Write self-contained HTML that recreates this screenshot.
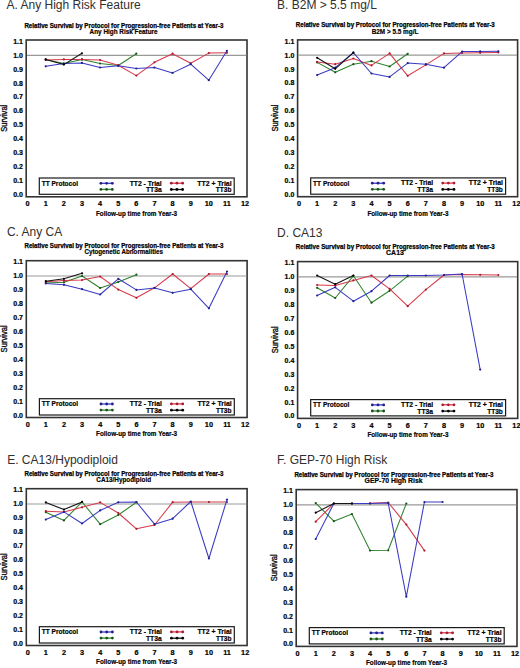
<!DOCTYPE html>
<html><head><meta charset="utf-8"><style>
html,body{margin:0;padding:0;background:#fff;}
svg{display:block;}
</style></head><body>
<svg width="520" height="668" viewBox="0 0 520 668">
<rect width="520" height="668" fill="#fff"/>
<g transform="translate(0,0)">
<text x="123.9" y="27.5" font-size="6.4" font-weight="bold" text-anchor="middle" textLength="199" lengthAdjust="spacingAndGlyphs" fill="#000" stroke="#000" stroke-width="0.25" font-family="Liberation Sans, sans-serif">Relative Survival by Protocol for Progression-free Patients at Year-3</text>
<text x="123.6" y="33.8" font-size="7.4" font-weight="bold" text-anchor="middle" textLength="68" lengthAdjust="spacingAndGlyphs" fill="#000" stroke="#000" stroke-width="0.2" font-family="Liberation Sans, sans-serif">Any High Risk Feature</text>
<rect x="26.2" y="40" width="220.8" height="156.8" fill="none" stroke="#333" stroke-width="1.6"/>
<line x1="27" y1="55.3" x2="246.4" y2="55.3" stroke="#999" stroke-width="1.2"/>
<text x="22.9" y="196.9" font-size="7" font-weight="bold" text-anchor="end" fill="#000" stroke="#000" stroke-width="0.2" font-family="Liberation Sans, sans-serif">0.0</text>
<text x="22.9" y="182.98" font-size="7" font-weight="bold" text-anchor="end" fill="#000" stroke="#000" stroke-width="0.2" font-family="Liberation Sans, sans-serif">0.1</text>
<text x="22.9" y="169.06" font-size="7" font-weight="bold" text-anchor="end" fill="#000" stroke="#000" stroke-width="0.2" font-family="Liberation Sans, sans-serif">0.2</text>
<text x="22.9" y="155.14" font-size="7" font-weight="bold" text-anchor="end" fill="#000" stroke="#000" stroke-width="0.2" font-family="Liberation Sans, sans-serif">0.3</text>
<text x="22.9" y="141.22" font-size="7" font-weight="bold" text-anchor="end" fill="#000" stroke="#000" stroke-width="0.2" font-family="Liberation Sans, sans-serif">0.4</text>
<text x="22.9" y="127.3" font-size="7" font-weight="bold" text-anchor="end" fill="#000" stroke="#000" stroke-width="0.2" font-family="Liberation Sans, sans-serif">0.5</text>
<text x="22.9" y="113.38" font-size="7" font-weight="bold" text-anchor="end" fill="#000" stroke="#000" stroke-width="0.2" font-family="Liberation Sans, sans-serif">0.6</text>
<text x="22.9" y="99.46" font-size="7" font-weight="bold" text-anchor="end" fill="#000" stroke="#000" stroke-width="0.2" font-family="Liberation Sans, sans-serif">0.7</text>
<text x="22.9" y="85.54" font-size="7" font-weight="bold" text-anchor="end" fill="#000" stroke="#000" stroke-width="0.2" font-family="Liberation Sans, sans-serif">0.8</text>
<text x="22.9" y="71.62" font-size="7" font-weight="bold" text-anchor="end" fill="#000" stroke="#000" stroke-width="0.2" font-family="Liberation Sans, sans-serif">0.9</text>
<text x="22.9" y="57.7" font-size="7" font-weight="bold" text-anchor="end" fill="#000" stroke="#000" stroke-width="0.2" font-family="Liberation Sans, sans-serif">1.0</text>
<text x="22.9" y="43.78" font-size="7" font-weight="bold" text-anchor="end" fill="#000" stroke="#000" stroke-width="0.2" font-family="Liberation Sans, sans-serif">1.1</text>
<text x="27.6" y="206" font-size="7.3" font-weight="bold" text-anchor="middle" fill="#000" stroke="#000" stroke-width="0.2" font-family="Liberation Sans, sans-serif">0</text>
<text x="45.72" y="206" font-size="7.3" font-weight="bold" text-anchor="middle" fill="#000" stroke="#000" stroke-width="0.2" font-family="Liberation Sans, sans-serif">1</text>
<text x="63.84" y="206" font-size="7.3" font-weight="bold" text-anchor="middle" fill="#000" stroke="#000" stroke-width="0.2" font-family="Liberation Sans, sans-serif">2</text>
<text x="81.96" y="206" font-size="7.3" font-weight="bold" text-anchor="middle" fill="#000" stroke="#000" stroke-width="0.2" font-family="Liberation Sans, sans-serif">3</text>
<text x="100.08" y="206" font-size="7.3" font-weight="bold" text-anchor="middle" fill="#000" stroke="#000" stroke-width="0.2" font-family="Liberation Sans, sans-serif">4</text>
<text x="118.2" y="206" font-size="7.3" font-weight="bold" text-anchor="middle" fill="#000" stroke="#000" stroke-width="0.2" font-family="Liberation Sans, sans-serif">5</text>
<text x="136.32" y="206" font-size="7.3" font-weight="bold" text-anchor="middle" fill="#000" stroke="#000" stroke-width="0.2" font-family="Liberation Sans, sans-serif">6</text>
<text x="154.44" y="206" font-size="7.3" font-weight="bold" text-anchor="middle" fill="#000" stroke="#000" stroke-width="0.2" font-family="Liberation Sans, sans-serif">7</text>
<text x="172.56" y="206" font-size="7.3" font-weight="bold" text-anchor="middle" fill="#000" stroke="#000" stroke-width="0.2" font-family="Liberation Sans, sans-serif">8</text>
<text x="190.68" y="206" font-size="7.3" font-weight="bold" text-anchor="middle" fill="#000" stroke="#000" stroke-width="0.2" font-family="Liberation Sans, sans-serif">9</text>
<text x="208.8" y="206" font-size="7.3" font-weight="bold" text-anchor="middle" fill="#000" stroke="#000" stroke-width="0.2" font-family="Liberation Sans, sans-serif">10</text>
<text x="226.92" y="206" font-size="7.3" font-weight="bold" text-anchor="middle" fill="#000" stroke="#000" stroke-width="0.2" font-family="Liberation Sans, sans-serif">11</text>
<text x="245.04" y="206" font-size="7.3" font-weight="bold" text-anchor="middle" fill="#000" stroke="#000" stroke-width="0.2" font-family="Liberation Sans, sans-serif">12</text>
<text x="136.5" y="215.7" font-size="7.6" font-weight="bold" text-anchor="middle" textLength="81" lengthAdjust="spacingAndGlyphs" fill="#000" stroke="#000" stroke-width="0.2" font-family="Liberation Sans, sans-serif">Follow-up time from Year-3</text>
<text transform="translate(6.9,118.2) rotate(-90)" font-size="8.4" text-anchor="middle" textLength="27" lengthAdjust="spacingAndGlyphs" fill="#111" stroke="#111" stroke-width="0.35" font-family="Liberation Sans, sans-serif">Survival</text>
<rect x="39.3" y="178" width="194.9" height="16.3" fill="#fff" stroke="#1a1a1a" stroke-width="1.2"/>
<text x="41.7" y="185.7" font-size="7" font-weight="bold" textLength="36.3" lengthAdjust="spacingAndGlyphs" fill="#000" stroke="#000" stroke-width="0.2" font-family="Liberation Sans, sans-serif">TT Protocol</text>
<text x="161.7" y="185.5" font-size="7" font-weight="bold" text-anchor="end" textLength="32" lengthAdjust="spacingAndGlyphs" fill="#000" stroke="#000" stroke-width="0.2" font-family="Liberation Sans, sans-serif">TT2 - Trial</text>
<text x="161.7" y="192.2" font-size="7" font-weight="bold" text-anchor="end" textLength="15.8" lengthAdjust="spacingAndGlyphs" fill="#000" stroke="#000" stroke-width="0.2" font-family="Liberation Sans, sans-serif">TT3a</text>
<text x="231.6" y="185.5" font-size="7" font-weight="bold" text-anchor="end" textLength="34.3" lengthAdjust="spacingAndGlyphs" fill="#000" stroke="#000" stroke-width="0.2" font-family="Liberation Sans, sans-serif">TT2 + Trial</text>
<text x="231.4" y="192.2" font-size="7" font-weight="bold" text-anchor="end" textLength="15.6" lengthAdjust="spacingAndGlyphs" fill="#000" stroke="#000" stroke-width="0.2" font-family="Liberation Sans, sans-serif">TT3b</text>
<line x1="100.9" y1="183.3" x2="112.3" y2="183.3" stroke="#3a3ac4" stroke-width="1.3"/>
<circle cx="100.9" cy="183.3" r="1.4" fill="#20208a"/>
<circle cx="106.6" cy="183.3" r="1.4" fill="#20208a"/>
<circle cx="112.3" cy="183.3" r="1.4" fill="#20208a"/>
<line x1="100.9" y1="189.4" x2="112.3" y2="189.4" stroke="#2e842e" stroke-width="1.3"/>
<circle cx="100.9" cy="189.4" r="1.4" fill="#1a501a"/>
<circle cx="106.6" cy="189.4" r="1.4" fill="#1a501a"/>
<circle cx="112.3" cy="189.4" r="1.4" fill="#1a501a"/>
<line x1="171.3" y1="183.2" x2="182.6" y2="183.2" stroke="#d63a48" stroke-width="1.3"/>
<circle cx="171.3" cy="183.2" r="1.4" fill="#b01830"/>
<circle cx="176.95" cy="183.2" r="1.4" fill="#b01830"/>
<circle cx="182.6" cy="183.2" r="1.4" fill="#b01830"/>
<line x1="171.3" y1="189.5" x2="182.6" y2="189.5" stroke="#151515" stroke-width="1.3"/>
<circle cx="171.3" cy="189.5" r="1.4" fill="#000"/>
<circle cx="176.95" cy="189.5" r="1.4" fill="#000"/>
<circle cx="182.6" cy="189.5" r="1.4" fill="#000"/>
</g>
<text x="6.5" y="8.9" font-size="12" fill="#303030" font-family="Liberation Sans, sans-serif">A. Any High Risk Feature</text>
<polyline points="45.72,59.4 63.84,63.5 81.96,59.4 100.08,63.5 118.2,65.5 136.32,53.7" fill="none" stroke="#2e842e" stroke-width="1.05" stroke-linejoin="round"/>
<circle cx="45.72" cy="59.4" r="1.1" fill="#1a501a"/>
<circle cx="63.84" cy="63.5" r="1.1" fill="#1a501a"/>
<circle cx="81.96" cy="59.4" r="1.1" fill="#1a501a"/>
<circle cx="100.08" cy="63.5" r="1.1" fill="#1a501a"/>
<circle cx="118.2" cy="65.5" r="1.1" fill="#1a501a"/>
<circle cx="136.32" cy="53.7" r="1.1" fill="#1a501a"/>
<polyline points="45.72,60 63.84,59.4 81.96,59.4 100.08,60 118.2,65.2 136.32,75.6 154.44,62.3 172.56,53.7 190.68,63.3 208.8,53.1 226.92,52.8" fill="none" stroke="#d63a48" stroke-width="1.05" stroke-linejoin="round"/>
<circle cx="45.72" cy="60" r="1.1" fill="#b01830"/>
<circle cx="63.84" cy="59.4" r="1.1" fill="#b01830"/>
<circle cx="81.96" cy="59.4" r="1.1" fill="#b01830"/>
<circle cx="100.08" cy="60" r="1.1" fill="#b01830"/>
<circle cx="118.2" cy="65.2" r="1.1" fill="#b01830"/>
<circle cx="136.32" cy="75.6" r="1.1" fill="#b01830"/>
<circle cx="154.44" cy="62.3" r="1.1" fill="#b01830"/>
<circle cx="172.56" cy="53.7" r="1.1" fill="#b01830"/>
<circle cx="190.68" cy="63.3" r="1.1" fill="#b01830"/>
<circle cx="208.8" cy="53.1" r="1.1" fill="#b01830"/>
<circle cx="226.92" cy="52.8" r="1.1" fill="#b01830"/>
<polyline points="45.72,66.3 63.84,63.5 81.96,62.9 100.08,67.5 118.2,65.8 136.32,68.5 154.44,67.5 172.56,72.9 190.68,64.2 208.8,80.2 226.92,50.8" fill="none" stroke="#3a3ac4" stroke-width="1.05" stroke-linejoin="round"/>
<circle cx="45.72" cy="66.3" r="1.1" fill="#20208a"/>
<circle cx="63.84" cy="63.5" r="1.1" fill="#20208a"/>
<circle cx="81.96" cy="62.9" r="1.1" fill="#20208a"/>
<circle cx="100.08" cy="67.5" r="1.1" fill="#20208a"/>
<circle cx="118.2" cy="65.8" r="1.1" fill="#20208a"/>
<circle cx="136.32" cy="68.5" r="1.1" fill="#20208a"/>
<circle cx="154.44" cy="67.5" r="1.1" fill="#20208a"/>
<circle cx="172.56" cy="72.9" r="1.1" fill="#20208a"/>
<circle cx="190.68" cy="64.2" r="1.1" fill="#20208a"/>
<circle cx="208.8" cy="80.2" r="1.1" fill="#20208a"/>
<circle cx="226.92" cy="50.8" r="1.1" fill="#20208a"/>
<polyline points="45.72,59.4 63.84,64.6 81.96,53.3" fill="none" stroke="#151515" stroke-width="1.05" stroke-linejoin="round"/>
<circle cx="45.72" cy="59.4" r="1.1" fill="#000"/>
<circle cx="63.84" cy="64.6" r="1.1" fill="#000"/>
<circle cx="81.96" cy="53.3" r="1.1" fill="#000"/>
<g transform="translate(271.4,-0.1)">
<text x="123.9" y="27.5" font-size="6.4" font-weight="bold" text-anchor="middle" textLength="199" lengthAdjust="spacingAndGlyphs" fill="#000" stroke="#000" stroke-width="0.25" font-family="Liberation Sans, sans-serif">Relative Survival by Protocol for Progression-free Patients at Year-3</text>
<text x="123.6" y="33.8" font-size="7.4" font-weight="bold" text-anchor="middle" textLength="46.7" lengthAdjust="spacingAndGlyphs" fill="#000" stroke="#000" stroke-width="0.2" font-family="Liberation Sans, sans-serif">B2M &gt; 5.5 mg/L</text>
<rect x="26.2" y="40" width="220.0" height="156.8" fill="none" stroke="#333" stroke-width="1.6"/>
<line x1="27" y1="55.3" x2="245.6" y2="55.3" stroke="#999" stroke-width="1.2"/>
<text x="22.9" y="196.9" font-size="7" font-weight="bold" text-anchor="end" fill="#000" stroke="#000" stroke-width="0.2" font-family="Liberation Sans, sans-serif">0.0</text>
<text x="22.9" y="182.98" font-size="7" font-weight="bold" text-anchor="end" fill="#000" stroke="#000" stroke-width="0.2" font-family="Liberation Sans, sans-serif">0.1</text>
<text x="22.9" y="169.06" font-size="7" font-weight="bold" text-anchor="end" fill="#000" stroke="#000" stroke-width="0.2" font-family="Liberation Sans, sans-serif">0.2</text>
<text x="22.9" y="155.14" font-size="7" font-weight="bold" text-anchor="end" fill="#000" stroke="#000" stroke-width="0.2" font-family="Liberation Sans, sans-serif">0.3</text>
<text x="22.9" y="141.22" font-size="7" font-weight="bold" text-anchor="end" fill="#000" stroke="#000" stroke-width="0.2" font-family="Liberation Sans, sans-serif">0.4</text>
<text x="22.9" y="127.3" font-size="7" font-weight="bold" text-anchor="end" fill="#000" stroke="#000" stroke-width="0.2" font-family="Liberation Sans, sans-serif">0.5</text>
<text x="22.9" y="113.38" font-size="7" font-weight="bold" text-anchor="end" fill="#000" stroke="#000" stroke-width="0.2" font-family="Liberation Sans, sans-serif">0.6</text>
<text x="22.9" y="99.46" font-size="7" font-weight="bold" text-anchor="end" fill="#000" stroke="#000" stroke-width="0.2" font-family="Liberation Sans, sans-serif">0.7</text>
<text x="22.9" y="85.54" font-size="7" font-weight="bold" text-anchor="end" fill="#000" stroke="#000" stroke-width="0.2" font-family="Liberation Sans, sans-serif">0.8</text>
<text x="22.9" y="71.62" font-size="7" font-weight="bold" text-anchor="end" fill="#000" stroke="#000" stroke-width="0.2" font-family="Liberation Sans, sans-serif">0.9</text>
<text x="22.9" y="57.7" font-size="7" font-weight="bold" text-anchor="end" fill="#000" stroke="#000" stroke-width="0.2" font-family="Liberation Sans, sans-serif">1.0</text>
<text x="22.9" y="43.78" font-size="7" font-weight="bold" text-anchor="end" fill="#000" stroke="#000" stroke-width="0.2" font-family="Liberation Sans, sans-serif">1.1</text>
<text x="27.6" y="206" font-size="7.3" font-weight="bold" text-anchor="middle" fill="#000" stroke="#000" stroke-width="0.2" font-family="Liberation Sans, sans-serif">0</text>
<text x="45.72" y="206" font-size="7.3" font-weight="bold" text-anchor="middle" fill="#000" stroke="#000" stroke-width="0.2" font-family="Liberation Sans, sans-serif">1</text>
<text x="63.84" y="206" font-size="7.3" font-weight="bold" text-anchor="middle" fill="#000" stroke="#000" stroke-width="0.2" font-family="Liberation Sans, sans-serif">2</text>
<text x="81.96" y="206" font-size="7.3" font-weight="bold" text-anchor="middle" fill="#000" stroke="#000" stroke-width="0.2" font-family="Liberation Sans, sans-serif">3</text>
<text x="100.08" y="206" font-size="7.3" font-weight="bold" text-anchor="middle" fill="#000" stroke="#000" stroke-width="0.2" font-family="Liberation Sans, sans-serif">4</text>
<text x="118.2" y="206" font-size="7.3" font-weight="bold" text-anchor="middle" fill="#000" stroke="#000" stroke-width="0.2" font-family="Liberation Sans, sans-serif">5</text>
<text x="136.32" y="206" font-size="7.3" font-weight="bold" text-anchor="middle" fill="#000" stroke="#000" stroke-width="0.2" font-family="Liberation Sans, sans-serif">6</text>
<text x="154.44" y="206" font-size="7.3" font-weight="bold" text-anchor="middle" fill="#000" stroke="#000" stroke-width="0.2" font-family="Liberation Sans, sans-serif">7</text>
<text x="172.56" y="206" font-size="7.3" font-weight="bold" text-anchor="middle" fill="#000" stroke="#000" stroke-width="0.2" font-family="Liberation Sans, sans-serif">8</text>
<text x="190.68" y="206" font-size="7.3" font-weight="bold" text-anchor="middle" fill="#000" stroke="#000" stroke-width="0.2" font-family="Liberation Sans, sans-serif">9</text>
<text x="208.8" y="206" font-size="7.3" font-weight="bold" text-anchor="middle" fill="#000" stroke="#000" stroke-width="0.2" font-family="Liberation Sans, sans-serif">10</text>
<text x="226.92" y="206" font-size="7.3" font-weight="bold" text-anchor="middle" fill="#000" stroke="#000" stroke-width="0.2" font-family="Liberation Sans, sans-serif">11</text>
<text x="245.04" y="206" font-size="7.3" font-weight="bold" text-anchor="middle" fill="#000" stroke="#000" stroke-width="0.2" font-family="Liberation Sans, sans-serif">12</text>
<text x="136.5" y="215.7" font-size="7.6" font-weight="bold" text-anchor="middle" textLength="81" lengthAdjust="spacingAndGlyphs" fill="#000" stroke="#000" stroke-width="0.2" font-family="Liberation Sans, sans-serif">Follow-up time from Year-3</text>
<text transform="translate(6.9,118.2) rotate(-90)" font-size="8.4" text-anchor="middle" textLength="27" lengthAdjust="spacingAndGlyphs" fill="#111" stroke="#111" stroke-width="0.35" font-family="Liberation Sans, sans-serif">Survival</text>
<rect x="39.3" y="178" width="194.9" height="16.3" fill="#fff" stroke="#1a1a1a" stroke-width="1.2"/>
<text x="41.7" y="185.7" font-size="7" font-weight="bold" textLength="36.3" lengthAdjust="spacingAndGlyphs" fill="#000" stroke="#000" stroke-width="0.2" font-family="Liberation Sans, sans-serif">TT Protocol</text>
<text x="161.7" y="185.5" font-size="7" font-weight="bold" text-anchor="end" textLength="32" lengthAdjust="spacingAndGlyphs" fill="#000" stroke="#000" stroke-width="0.2" font-family="Liberation Sans, sans-serif">TT2 - Trial</text>
<text x="161.7" y="192.2" font-size="7" font-weight="bold" text-anchor="end" textLength="15.8" lengthAdjust="spacingAndGlyphs" fill="#000" stroke="#000" stroke-width="0.2" font-family="Liberation Sans, sans-serif">TT3a</text>
<text x="231.6" y="185.5" font-size="7" font-weight="bold" text-anchor="end" textLength="34.3" lengthAdjust="spacingAndGlyphs" fill="#000" stroke="#000" stroke-width="0.2" font-family="Liberation Sans, sans-serif">TT2 + Trial</text>
<text x="231.4" y="192.2" font-size="7" font-weight="bold" text-anchor="end" textLength="15.6" lengthAdjust="spacingAndGlyphs" fill="#000" stroke="#000" stroke-width="0.2" font-family="Liberation Sans, sans-serif">TT3b</text>
<line x1="100.9" y1="183.3" x2="112.3" y2="183.3" stroke="#3a3ac4" stroke-width="1.3"/>
<circle cx="100.9" cy="183.3" r="1.4" fill="#20208a"/>
<circle cx="106.6" cy="183.3" r="1.4" fill="#20208a"/>
<circle cx="112.3" cy="183.3" r="1.4" fill="#20208a"/>
<line x1="100.9" y1="189.4" x2="112.3" y2="189.4" stroke="#2e842e" stroke-width="1.3"/>
<circle cx="100.9" cy="189.4" r="1.4" fill="#1a501a"/>
<circle cx="106.6" cy="189.4" r="1.4" fill="#1a501a"/>
<circle cx="112.3" cy="189.4" r="1.4" fill="#1a501a"/>
<line x1="171.3" y1="183.2" x2="182.6" y2="183.2" stroke="#d63a48" stroke-width="1.3"/>
<circle cx="171.3" cy="183.2" r="1.4" fill="#b01830"/>
<circle cx="176.95" cy="183.2" r="1.4" fill="#b01830"/>
<circle cx="182.6" cy="183.2" r="1.4" fill="#b01830"/>
<line x1="171.3" y1="189.5" x2="182.6" y2="189.5" stroke="#151515" stroke-width="1.3"/>
<circle cx="171.3" cy="189.5" r="1.4" fill="#000"/>
<circle cx="176.95" cy="189.5" r="1.4" fill="#000"/>
<circle cx="182.6" cy="189.5" r="1.4" fill="#000"/>
</g>
<text x="277.1" y="8.9" font-size="12" fill="#303030" font-family="Liberation Sans, sans-serif">B. B2M &gt; 5.5 mg/L</text>
<polyline points="317.12,62.4 335.24,72.3 353.36,64.2 371.48,61.2 389.6,66.5 407.72,53.8" fill="none" stroke="#2e842e" stroke-width="1.05" stroke-linejoin="round"/>
<circle cx="317.12" cy="62.4" r="1.1" fill="#1a501a"/>
<circle cx="335.24" cy="72.3" r="1.1" fill="#1a501a"/>
<circle cx="353.36" cy="64.2" r="1.1" fill="#1a501a"/>
<circle cx="371.48" cy="61.2" r="1.1" fill="#1a501a"/>
<circle cx="389.6" cy="66.5" r="1.1" fill="#1a501a"/>
<circle cx="407.72" cy="53.8" r="1.1" fill="#1a501a"/>
<polyline points="317.12,61.9 335.24,64.2 353.36,58.5 371.48,65.4 389.6,53.4 407.72,75.8 425.84,64.9 443.96,53.4 462.08,53 480.2,52.8 498.32,52.4" fill="none" stroke="#d63a48" stroke-width="1.05" stroke-linejoin="round"/>
<circle cx="317.12" cy="61.9" r="1.1" fill="#b01830"/>
<circle cx="335.24" cy="64.2" r="1.1" fill="#b01830"/>
<circle cx="353.36" cy="58.5" r="1.1" fill="#b01830"/>
<circle cx="371.48" cy="65.4" r="1.1" fill="#b01830"/>
<circle cx="389.6" cy="53.4" r="1.1" fill="#b01830"/>
<circle cx="407.72" cy="75.8" r="1.1" fill="#b01830"/>
<circle cx="425.84" cy="64.9" r="1.1" fill="#b01830"/>
<circle cx="443.96" cy="53.4" r="1.1" fill="#b01830"/>
<circle cx="462.08" cy="53" r="1.1" fill="#b01830"/>
<circle cx="480.2" cy="52.8" r="1.1" fill="#b01830"/>
<circle cx="498.32" cy="52.4" r="1.1" fill="#b01830"/>
<polyline points="317.12,75.1 335.24,67.7 353.36,52.7 371.48,73.5 389.6,76.9 407.72,63.1 425.84,64.2 443.96,67.7 462.08,51.6 480.2,51.4 498.32,51.3" fill="none" stroke="#3a3ac4" stroke-width="1.05" stroke-linejoin="round"/>
<circle cx="317.12" cy="75.1" r="1.1" fill="#20208a"/>
<circle cx="335.24" cy="67.7" r="1.1" fill="#20208a"/>
<circle cx="353.36" cy="52.7" r="1.1" fill="#20208a"/>
<circle cx="371.48" cy="73.5" r="1.1" fill="#20208a"/>
<circle cx="389.6" cy="76.9" r="1.1" fill="#20208a"/>
<circle cx="407.72" cy="63.1" r="1.1" fill="#20208a"/>
<circle cx="425.84" cy="64.2" r="1.1" fill="#20208a"/>
<circle cx="443.96" cy="67.7" r="1.1" fill="#20208a"/>
<circle cx="462.08" cy="51.6" r="1.1" fill="#20208a"/>
<circle cx="480.2" cy="51.4" r="1.1" fill="#20208a"/>
<circle cx="498.32" cy="51.3" r="1.1" fill="#20208a"/>
<polyline points="317.12,57.8 335.24,68.8 353.36,52.7" fill="none" stroke="#151515" stroke-width="1.05" stroke-linejoin="round"/>
<circle cx="317.12" cy="57.8" r="1.1" fill="#000"/>
<circle cx="335.24" cy="68.8" r="1.1" fill="#000"/>
<circle cx="353.36" cy="52.7" r="1.1" fill="#000"/>
<g transform="translate(0.1,220.7)">
<text x="123.9" y="27.5" font-size="6.4" font-weight="bold" text-anchor="middle" textLength="199" lengthAdjust="spacingAndGlyphs" fill="#000" stroke="#000" stroke-width="0.25" font-family="Liberation Sans, sans-serif">Relative Survival by Protocol for Progression-free Patients at Year-3</text>
<text x="123.6" y="33.8" font-size="7.4" font-weight="bold" text-anchor="middle" textLength="78.5" lengthAdjust="spacingAndGlyphs" fill="#000" stroke="#000" stroke-width="0.2" font-family="Liberation Sans, sans-serif">Cytogenetic Abnormalities</text>
<rect x="26.2" y="40" width="220.8" height="156.8" fill="none" stroke="#333" stroke-width="1.6"/>
<line x1="27" y1="55.3" x2="246.4" y2="55.3" stroke="#999" stroke-width="1.2"/>
<text x="22.9" y="196.9" font-size="7" font-weight="bold" text-anchor="end" fill="#000" stroke="#000" stroke-width="0.2" font-family="Liberation Sans, sans-serif">0.0</text>
<text x="22.9" y="182.98" font-size="7" font-weight="bold" text-anchor="end" fill="#000" stroke="#000" stroke-width="0.2" font-family="Liberation Sans, sans-serif">0.1</text>
<text x="22.9" y="169.06" font-size="7" font-weight="bold" text-anchor="end" fill="#000" stroke="#000" stroke-width="0.2" font-family="Liberation Sans, sans-serif">0.2</text>
<text x="22.9" y="155.14" font-size="7" font-weight="bold" text-anchor="end" fill="#000" stroke="#000" stroke-width="0.2" font-family="Liberation Sans, sans-serif">0.3</text>
<text x="22.9" y="141.22" font-size="7" font-weight="bold" text-anchor="end" fill="#000" stroke="#000" stroke-width="0.2" font-family="Liberation Sans, sans-serif">0.4</text>
<text x="22.9" y="127.3" font-size="7" font-weight="bold" text-anchor="end" fill="#000" stroke="#000" stroke-width="0.2" font-family="Liberation Sans, sans-serif">0.5</text>
<text x="22.9" y="113.38" font-size="7" font-weight="bold" text-anchor="end" fill="#000" stroke="#000" stroke-width="0.2" font-family="Liberation Sans, sans-serif">0.6</text>
<text x="22.9" y="99.46" font-size="7" font-weight="bold" text-anchor="end" fill="#000" stroke="#000" stroke-width="0.2" font-family="Liberation Sans, sans-serif">0.7</text>
<text x="22.9" y="85.54" font-size="7" font-weight="bold" text-anchor="end" fill="#000" stroke="#000" stroke-width="0.2" font-family="Liberation Sans, sans-serif">0.8</text>
<text x="22.9" y="71.62" font-size="7" font-weight="bold" text-anchor="end" fill="#000" stroke="#000" stroke-width="0.2" font-family="Liberation Sans, sans-serif">0.9</text>
<text x="22.9" y="57.7" font-size="7" font-weight="bold" text-anchor="end" fill="#000" stroke="#000" stroke-width="0.2" font-family="Liberation Sans, sans-serif">1.0</text>
<text x="22.9" y="43.78" font-size="7" font-weight="bold" text-anchor="end" fill="#000" stroke="#000" stroke-width="0.2" font-family="Liberation Sans, sans-serif">1.1</text>
<text x="27.6" y="206" font-size="7.3" font-weight="bold" text-anchor="middle" fill="#000" stroke="#000" stroke-width="0.2" font-family="Liberation Sans, sans-serif">0</text>
<text x="45.72" y="206" font-size="7.3" font-weight="bold" text-anchor="middle" fill="#000" stroke="#000" stroke-width="0.2" font-family="Liberation Sans, sans-serif">1</text>
<text x="63.84" y="206" font-size="7.3" font-weight="bold" text-anchor="middle" fill="#000" stroke="#000" stroke-width="0.2" font-family="Liberation Sans, sans-serif">2</text>
<text x="81.96" y="206" font-size="7.3" font-weight="bold" text-anchor="middle" fill="#000" stroke="#000" stroke-width="0.2" font-family="Liberation Sans, sans-serif">3</text>
<text x="100.08" y="206" font-size="7.3" font-weight="bold" text-anchor="middle" fill="#000" stroke="#000" stroke-width="0.2" font-family="Liberation Sans, sans-serif">4</text>
<text x="118.2" y="206" font-size="7.3" font-weight="bold" text-anchor="middle" fill="#000" stroke="#000" stroke-width="0.2" font-family="Liberation Sans, sans-serif">5</text>
<text x="136.32" y="206" font-size="7.3" font-weight="bold" text-anchor="middle" fill="#000" stroke="#000" stroke-width="0.2" font-family="Liberation Sans, sans-serif">6</text>
<text x="154.44" y="206" font-size="7.3" font-weight="bold" text-anchor="middle" fill="#000" stroke="#000" stroke-width="0.2" font-family="Liberation Sans, sans-serif">7</text>
<text x="172.56" y="206" font-size="7.3" font-weight="bold" text-anchor="middle" fill="#000" stroke="#000" stroke-width="0.2" font-family="Liberation Sans, sans-serif">8</text>
<text x="190.68" y="206" font-size="7.3" font-weight="bold" text-anchor="middle" fill="#000" stroke="#000" stroke-width="0.2" font-family="Liberation Sans, sans-serif">9</text>
<text x="208.8" y="206" font-size="7.3" font-weight="bold" text-anchor="middle" fill="#000" stroke="#000" stroke-width="0.2" font-family="Liberation Sans, sans-serif">10</text>
<text x="226.92" y="206" font-size="7.3" font-weight="bold" text-anchor="middle" fill="#000" stroke="#000" stroke-width="0.2" font-family="Liberation Sans, sans-serif">11</text>
<text x="245.04" y="206" font-size="7.3" font-weight="bold" text-anchor="middle" fill="#000" stroke="#000" stroke-width="0.2" font-family="Liberation Sans, sans-serif">12</text>
<text x="136.5" y="215.7" font-size="7.6" font-weight="bold" text-anchor="middle" textLength="81" lengthAdjust="spacingAndGlyphs" fill="#000" stroke="#000" stroke-width="0.2" font-family="Liberation Sans, sans-serif">Follow-up time from Year-3</text>
<text transform="translate(6.9,118.2) rotate(-90)" font-size="8.4" text-anchor="middle" textLength="27" lengthAdjust="spacingAndGlyphs" fill="#111" stroke="#111" stroke-width="0.35" font-family="Liberation Sans, sans-serif">Survival</text>
<rect x="39.3" y="178" width="194.9" height="16.3" fill="#fff" stroke="#1a1a1a" stroke-width="1.2"/>
<text x="41.7" y="185.7" font-size="7" font-weight="bold" textLength="36.3" lengthAdjust="spacingAndGlyphs" fill="#000" stroke="#000" stroke-width="0.2" font-family="Liberation Sans, sans-serif">TT Protocol</text>
<text x="161.7" y="185.5" font-size="7" font-weight="bold" text-anchor="end" textLength="32" lengthAdjust="spacingAndGlyphs" fill="#000" stroke="#000" stroke-width="0.2" font-family="Liberation Sans, sans-serif">TT2 - Trial</text>
<text x="161.7" y="192.2" font-size="7" font-weight="bold" text-anchor="end" textLength="15.8" lengthAdjust="spacingAndGlyphs" fill="#000" stroke="#000" stroke-width="0.2" font-family="Liberation Sans, sans-serif">TT3a</text>
<text x="231.6" y="185.5" font-size="7" font-weight="bold" text-anchor="end" textLength="34.3" lengthAdjust="spacingAndGlyphs" fill="#000" stroke="#000" stroke-width="0.2" font-family="Liberation Sans, sans-serif">TT2 + Trial</text>
<text x="231.4" y="192.2" font-size="7" font-weight="bold" text-anchor="end" textLength="15.6" lengthAdjust="spacingAndGlyphs" fill="#000" stroke="#000" stroke-width="0.2" font-family="Liberation Sans, sans-serif">TT3b</text>
<line x1="100.9" y1="183.3" x2="112.3" y2="183.3" stroke="#3a3ac4" stroke-width="1.3"/>
<circle cx="100.9" cy="183.3" r="1.4" fill="#20208a"/>
<circle cx="106.6" cy="183.3" r="1.4" fill="#20208a"/>
<circle cx="112.3" cy="183.3" r="1.4" fill="#20208a"/>
<line x1="100.9" y1="189.4" x2="112.3" y2="189.4" stroke="#2e842e" stroke-width="1.3"/>
<circle cx="100.9" cy="189.4" r="1.4" fill="#1a501a"/>
<circle cx="106.6" cy="189.4" r="1.4" fill="#1a501a"/>
<circle cx="112.3" cy="189.4" r="1.4" fill="#1a501a"/>
<line x1="171.3" y1="183.2" x2="182.6" y2="183.2" stroke="#d63a48" stroke-width="1.3"/>
<circle cx="171.3" cy="183.2" r="1.4" fill="#b01830"/>
<circle cx="176.95" cy="183.2" r="1.4" fill="#b01830"/>
<circle cx="182.6" cy="183.2" r="1.4" fill="#b01830"/>
<line x1="171.3" y1="189.5" x2="182.6" y2="189.5" stroke="#151515" stroke-width="1.3"/>
<circle cx="171.3" cy="189.5" r="1.4" fill="#000"/>
<circle cx="176.95" cy="189.5" r="1.4" fill="#000"/>
<circle cx="182.6" cy="189.5" r="1.4" fill="#000"/>
</g>
<text x="6.9" y="235.6" font-size="12" fill="#303030" font-family="Liberation Sans, sans-serif">C. Any CA</text>
<polyline points="45.82,282.9 63.94,282.3 82.06,276 100.18,288 118.3,281.9 136.42,274.7" fill="none" stroke="#2e842e" stroke-width="1.05" stroke-linejoin="round"/>
<circle cx="45.82" cy="282.9" r="1.1" fill="#1a501a"/>
<circle cx="63.94" cy="282.3" r="1.1" fill="#1a501a"/>
<circle cx="82.06" cy="276" r="1.1" fill="#1a501a"/>
<circle cx="100.18" cy="288" r="1.1" fill="#1a501a"/>
<circle cx="118.3" cy="281.9" r="1.1" fill="#1a501a"/>
<circle cx="136.42" cy="274.7" r="1.1" fill="#1a501a"/>
<polyline points="45.82,281.7 63.94,280.6 82.06,280 100.18,276.5 118.3,289.6 136.42,297.8 154.54,287.8 172.66,274 190.78,288.7 208.9,274 227.02,274" fill="none" stroke="#d63a48" stroke-width="1.05" stroke-linejoin="round"/>
<circle cx="45.82" cy="281.7" r="1.1" fill="#b01830"/>
<circle cx="63.94" cy="280.6" r="1.1" fill="#b01830"/>
<circle cx="82.06" cy="280" r="1.1" fill="#b01830"/>
<circle cx="100.18" cy="276.5" r="1.1" fill="#b01830"/>
<circle cx="118.3" cy="289.6" r="1.1" fill="#b01830"/>
<circle cx="136.42" cy="297.8" r="1.1" fill="#b01830"/>
<circle cx="154.54" cy="287.8" r="1.1" fill="#b01830"/>
<circle cx="172.66" cy="274" r="1.1" fill="#b01830"/>
<circle cx="190.78" cy="288.7" r="1.1" fill="#b01830"/>
<circle cx="208.9" cy="274" r="1.1" fill="#b01830"/>
<circle cx="227.02" cy="274" r="1.1" fill="#b01830"/>
<polyline points="45.82,283.5 63.94,284.8 82.06,289.2 100.18,294.5 118.3,278.8 136.42,289.9 154.54,288 172.66,292.8 190.78,289.2 208.9,308.3 227.02,271.5" fill="none" stroke="#3a3ac4" stroke-width="1.05" stroke-linejoin="round"/>
<circle cx="45.82" cy="283.5" r="1.1" fill="#20208a"/>
<circle cx="63.94" cy="284.8" r="1.1" fill="#20208a"/>
<circle cx="82.06" cy="289.2" r="1.1" fill="#20208a"/>
<circle cx="100.18" cy="294.5" r="1.1" fill="#20208a"/>
<circle cx="118.3" cy="278.8" r="1.1" fill="#20208a"/>
<circle cx="136.42" cy="289.9" r="1.1" fill="#20208a"/>
<circle cx="154.54" cy="288" r="1.1" fill="#20208a"/>
<circle cx="172.66" cy="292.8" r="1.1" fill="#20208a"/>
<circle cx="190.78" cy="289.2" r="1.1" fill="#20208a"/>
<circle cx="208.9" cy="308.3" r="1.1" fill="#20208a"/>
<circle cx="227.02" cy="271.5" r="1.1" fill="#20208a"/>
<polyline points="45.82,281.2 63.94,278.8 82.06,273.3" fill="none" stroke="#151515" stroke-width="1.05" stroke-linejoin="round"/>
<circle cx="45.82" cy="281.2" r="1.1" fill="#000"/>
<circle cx="63.94" cy="278.8" r="1.1" fill="#000"/>
<circle cx="82.06" cy="273.3" r="1.1" fill="#000"/>
<g transform="translate(271.4,221.6)">
<text x="123.9" y="27.5" font-size="6.4" font-weight="bold" text-anchor="middle" textLength="199" lengthAdjust="spacingAndGlyphs" fill="#000" stroke="#000" stroke-width="0.25" font-family="Liberation Sans, sans-serif">Relative Survival by Protocol for Progression-free Patients at Year-3</text>
<text x="123.6" y="33.8" font-size="7.4" font-weight="bold" text-anchor="middle" textLength="17.8" lengthAdjust="spacingAndGlyphs" fill="#000" stroke="#000" stroke-width="0.2" font-family="Liberation Sans, sans-serif">CA13</text>
<rect x="26.2" y="40" width="220.1" height="156.8" fill="none" stroke="#333" stroke-width="1.6"/>
<line x1="27" y1="55.3" x2="245.7" y2="55.3" stroke="#999" stroke-width="1.2"/>
<text x="22.9" y="196.9" font-size="7" font-weight="bold" text-anchor="end" fill="#000" stroke="#000" stroke-width="0.2" font-family="Liberation Sans, sans-serif">0.0</text>
<text x="22.9" y="182.98" font-size="7" font-weight="bold" text-anchor="end" fill="#000" stroke="#000" stroke-width="0.2" font-family="Liberation Sans, sans-serif">0.1</text>
<text x="22.9" y="169.06" font-size="7" font-weight="bold" text-anchor="end" fill="#000" stroke="#000" stroke-width="0.2" font-family="Liberation Sans, sans-serif">0.2</text>
<text x="22.9" y="155.14" font-size="7" font-weight="bold" text-anchor="end" fill="#000" stroke="#000" stroke-width="0.2" font-family="Liberation Sans, sans-serif">0.3</text>
<text x="22.9" y="141.22" font-size="7" font-weight="bold" text-anchor="end" fill="#000" stroke="#000" stroke-width="0.2" font-family="Liberation Sans, sans-serif">0.4</text>
<text x="22.9" y="127.3" font-size="7" font-weight="bold" text-anchor="end" fill="#000" stroke="#000" stroke-width="0.2" font-family="Liberation Sans, sans-serif">0.5</text>
<text x="22.9" y="113.38" font-size="7" font-weight="bold" text-anchor="end" fill="#000" stroke="#000" stroke-width="0.2" font-family="Liberation Sans, sans-serif">0.6</text>
<text x="22.9" y="99.46" font-size="7" font-weight="bold" text-anchor="end" fill="#000" stroke="#000" stroke-width="0.2" font-family="Liberation Sans, sans-serif">0.7</text>
<text x="22.9" y="85.54" font-size="7" font-weight="bold" text-anchor="end" fill="#000" stroke="#000" stroke-width="0.2" font-family="Liberation Sans, sans-serif">0.8</text>
<text x="22.9" y="71.62" font-size="7" font-weight="bold" text-anchor="end" fill="#000" stroke="#000" stroke-width="0.2" font-family="Liberation Sans, sans-serif">0.9</text>
<text x="22.9" y="57.7" font-size="7" font-weight="bold" text-anchor="end" fill="#000" stroke="#000" stroke-width="0.2" font-family="Liberation Sans, sans-serif">1.0</text>
<text x="22.9" y="43.78" font-size="7" font-weight="bold" text-anchor="end" fill="#000" stroke="#000" stroke-width="0.2" font-family="Liberation Sans, sans-serif">1.1</text>
<text x="27.6" y="206" font-size="7.3" font-weight="bold" text-anchor="middle" fill="#000" stroke="#000" stroke-width="0.2" font-family="Liberation Sans, sans-serif">0</text>
<text x="45.72" y="206" font-size="7.3" font-weight="bold" text-anchor="middle" fill="#000" stroke="#000" stroke-width="0.2" font-family="Liberation Sans, sans-serif">1</text>
<text x="63.84" y="206" font-size="7.3" font-weight="bold" text-anchor="middle" fill="#000" stroke="#000" stroke-width="0.2" font-family="Liberation Sans, sans-serif">2</text>
<text x="81.96" y="206" font-size="7.3" font-weight="bold" text-anchor="middle" fill="#000" stroke="#000" stroke-width="0.2" font-family="Liberation Sans, sans-serif">3</text>
<text x="100.08" y="206" font-size="7.3" font-weight="bold" text-anchor="middle" fill="#000" stroke="#000" stroke-width="0.2" font-family="Liberation Sans, sans-serif">4</text>
<text x="118.2" y="206" font-size="7.3" font-weight="bold" text-anchor="middle" fill="#000" stroke="#000" stroke-width="0.2" font-family="Liberation Sans, sans-serif">5</text>
<text x="136.32" y="206" font-size="7.3" font-weight="bold" text-anchor="middle" fill="#000" stroke="#000" stroke-width="0.2" font-family="Liberation Sans, sans-serif">6</text>
<text x="154.44" y="206" font-size="7.3" font-weight="bold" text-anchor="middle" fill="#000" stroke="#000" stroke-width="0.2" font-family="Liberation Sans, sans-serif">7</text>
<text x="172.56" y="206" font-size="7.3" font-weight="bold" text-anchor="middle" fill="#000" stroke="#000" stroke-width="0.2" font-family="Liberation Sans, sans-serif">8</text>
<text x="190.68" y="206" font-size="7.3" font-weight="bold" text-anchor="middle" fill="#000" stroke="#000" stroke-width="0.2" font-family="Liberation Sans, sans-serif">9</text>
<text x="208.8" y="206" font-size="7.3" font-weight="bold" text-anchor="middle" fill="#000" stroke="#000" stroke-width="0.2" font-family="Liberation Sans, sans-serif">10</text>
<text x="226.92" y="206" font-size="7.3" font-weight="bold" text-anchor="middle" fill="#000" stroke="#000" stroke-width="0.2" font-family="Liberation Sans, sans-serif">11</text>
<text x="245.04" y="206" font-size="7.3" font-weight="bold" text-anchor="middle" fill="#000" stroke="#000" stroke-width="0.2" font-family="Liberation Sans, sans-serif">12</text>
<text x="136.5" y="215.7" font-size="7.6" font-weight="bold" text-anchor="middle" textLength="81" lengthAdjust="spacingAndGlyphs" fill="#000" stroke="#000" stroke-width="0.2" font-family="Liberation Sans, sans-serif">Follow-up time from Year-3</text>
<text transform="translate(6.9,118.2) rotate(-90)" font-size="8.4" text-anchor="middle" textLength="27" lengthAdjust="spacingAndGlyphs" fill="#111" stroke="#111" stroke-width="0.35" font-family="Liberation Sans, sans-serif">Survival</text>
<rect x="39.3" y="178" width="194.9" height="16.3" fill="#fff" stroke="#1a1a1a" stroke-width="1.2"/>
<text x="41.7" y="185.7" font-size="7" font-weight="bold" textLength="36.3" lengthAdjust="spacingAndGlyphs" fill="#000" stroke="#000" stroke-width="0.2" font-family="Liberation Sans, sans-serif">TT Protocol</text>
<text x="161.7" y="185.5" font-size="7" font-weight="bold" text-anchor="end" textLength="32" lengthAdjust="spacingAndGlyphs" fill="#000" stroke="#000" stroke-width="0.2" font-family="Liberation Sans, sans-serif">TT2 - Trial</text>
<text x="161.7" y="192.2" font-size="7" font-weight="bold" text-anchor="end" textLength="15.8" lengthAdjust="spacingAndGlyphs" fill="#000" stroke="#000" stroke-width="0.2" font-family="Liberation Sans, sans-serif">TT3a</text>
<text x="231.6" y="185.5" font-size="7" font-weight="bold" text-anchor="end" textLength="34.3" lengthAdjust="spacingAndGlyphs" fill="#000" stroke="#000" stroke-width="0.2" font-family="Liberation Sans, sans-serif">TT2 + Trial</text>
<text x="231.4" y="192.2" font-size="7" font-weight="bold" text-anchor="end" textLength="15.6" lengthAdjust="spacingAndGlyphs" fill="#000" stroke="#000" stroke-width="0.2" font-family="Liberation Sans, sans-serif">TT3b</text>
<line x1="100.9" y1="183.3" x2="112.3" y2="183.3" stroke="#3a3ac4" stroke-width="1.3"/>
<circle cx="100.9" cy="183.3" r="1.4" fill="#20208a"/>
<circle cx="106.6" cy="183.3" r="1.4" fill="#20208a"/>
<circle cx="112.3" cy="183.3" r="1.4" fill="#20208a"/>
<line x1="100.9" y1="189.4" x2="112.3" y2="189.4" stroke="#2e842e" stroke-width="1.3"/>
<circle cx="100.9" cy="189.4" r="1.4" fill="#1a501a"/>
<circle cx="106.6" cy="189.4" r="1.4" fill="#1a501a"/>
<circle cx="112.3" cy="189.4" r="1.4" fill="#1a501a"/>
<line x1="171.3" y1="183.2" x2="182.6" y2="183.2" stroke="#d63a48" stroke-width="1.3"/>
<circle cx="171.3" cy="183.2" r="1.4" fill="#b01830"/>
<circle cx="176.95" cy="183.2" r="1.4" fill="#b01830"/>
<circle cx="182.6" cy="183.2" r="1.4" fill="#b01830"/>
<line x1="171.3" y1="189.5" x2="182.6" y2="189.5" stroke="#151515" stroke-width="1.3"/>
<circle cx="171.3" cy="189.5" r="1.4" fill="#000"/>
<circle cx="176.95" cy="189.5" r="1.4" fill="#000"/>
<circle cx="182.6" cy="189.5" r="1.4" fill="#000"/>
</g>
<text x="277.1" y="237.1" font-size="12" fill="#303030" font-family="Liberation Sans, sans-serif">D. CA13</text>
<polyline points="317.12,287.8 335.24,298 353.36,275.8 371.48,302.7 389.6,290.8 407.72,276.1" fill="none" stroke="#2e842e" stroke-width="1.05" stroke-linejoin="round"/>
<circle cx="317.12" cy="287.8" r="1.1" fill="#1a501a"/>
<circle cx="335.24" cy="298" r="1.1" fill="#1a501a"/>
<circle cx="353.36" cy="275.8" r="1.1" fill="#1a501a"/>
<circle cx="371.48" cy="302.7" r="1.1" fill="#1a501a"/>
<circle cx="389.6" cy="290.8" r="1.1" fill="#1a501a"/>
<circle cx="407.72" cy="276.1" r="1.1" fill="#1a501a"/>
<polyline points="317.12,285 335.24,285.5 353.36,280.4 371.48,275.5 389.6,288.8 407.72,306.2 425.84,289.6 443.96,275 462.08,274.6 480.2,274.8 498.32,275" fill="none" stroke="#d63a48" stroke-width="1.05" stroke-linejoin="round"/>
<circle cx="317.12" cy="285" r="1.1" fill="#b01830"/>
<circle cx="335.24" cy="285.5" r="1.1" fill="#b01830"/>
<circle cx="353.36" cy="280.4" r="1.1" fill="#b01830"/>
<circle cx="371.48" cy="275.5" r="1.1" fill="#b01830"/>
<circle cx="389.6" cy="288.8" r="1.1" fill="#b01830"/>
<circle cx="407.72" cy="306.2" r="1.1" fill="#b01830"/>
<circle cx="425.84" cy="289.6" r="1.1" fill="#b01830"/>
<circle cx="443.96" cy="275" r="1.1" fill="#b01830"/>
<circle cx="462.08" cy="274.6" r="1.1" fill="#b01830"/>
<circle cx="480.2" cy="274.8" r="1.1" fill="#b01830"/>
<circle cx="498.32" cy="275" r="1.1" fill="#b01830"/>
<polyline points="317.12,295.5 335.24,287.3 353.36,301.2 371.48,291.2 389.6,275.5 407.72,275.5 425.84,275.5 443.96,275 462.08,274 480.2,369.6" fill="none" stroke="#3a3ac4" stroke-width="1.05" stroke-linejoin="round"/>
<circle cx="317.12" cy="295.5" r="1.1" fill="#20208a"/>
<circle cx="335.24" cy="287.3" r="1.1" fill="#20208a"/>
<circle cx="353.36" cy="301.2" r="1.1" fill="#20208a"/>
<circle cx="371.48" cy="291.2" r="1.1" fill="#20208a"/>
<circle cx="389.6" cy="275.5" r="1.1" fill="#20208a"/>
<circle cx="407.72" cy="275.5" r="1.1" fill="#20208a"/>
<circle cx="425.84" cy="275.5" r="1.1" fill="#20208a"/>
<circle cx="443.96" cy="275" r="1.1" fill="#20208a"/>
<circle cx="462.08" cy="274" r="1.1" fill="#20208a"/>
<circle cx="480.2" cy="369.6" r="1.1" fill="#20208a"/>
<polyline points="317.12,275.5 335.24,284.2 353.36,275.5" fill="none" stroke="#151515" stroke-width="1.05" stroke-linejoin="round"/>
<circle cx="317.12" cy="275.5" r="1.1" fill="#000"/>
<circle cx="335.24" cy="284.2" r="1.1" fill="#000"/>
<circle cx="353.36" cy="275.5" r="1.1" fill="#000"/>
<g transform="translate(0.1,448.7)">
<text x="123.9" y="27.5" font-size="6.4" font-weight="bold" text-anchor="middle" textLength="199" lengthAdjust="spacingAndGlyphs" fill="#000" stroke="#000" stroke-width="0.25" font-family="Liberation Sans, sans-serif">Relative Survival by Protocol for Progression-free Patients at Year-3</text>
<text x="123.6" y="33.8" font-size="7.4" font-weight="bold" text-anchor="middle" textLength="54.7" lengthAdjust="spacingAndGlyphs" fill="#000" stroke="#000" stroke-width="0.2" font-family="Liberation Sans, sans-serif">CA13/Hypodiploid</text>
<rect x="26.2" y="40" width="220.8" height="156.8" fill="none" stroke="#333" stroke-width="1.6"/>
<line x1="27" y1="55.3" x2="246.4" y2="55.3" stroke="#999" stroke-width="1.2"/>
<text x="22.9" y="196.9" font-size="7" font-weight="bold" text-anchor="end" fill="#000" stroke="#000" stroke-width="0.2" font-family="Liberation Sans, sans-serif">0.0</text>
<text x="22.9" y="182.98" font-size="7" font-weight="bold" text-anchor="end" fill="#000" stroke="#000" stroke-width="0.2" font-family="Liberation Sans, sans-serif">0.1</text>
<text x="22.9" y="169.06" font-size="7" font-weight="bold" text-anchor="end" fill="#000" stroke="#000" stroke-width="0.2" font-family="Liberation Sans, sans-serif">0.2</text>
<text x="22.9" y="155.14" font-size="7" font-weight="bold" text-anchor="end" fill="#000" stroke="#000" stroke-width="0.2" font-family="Liberation Sans, sans-serif">0.3</text>
<text x="22.9" y="141.22" font-size="7" font-weight="bold" text-anchor="end" fill="#000" stroke="#000" stroke-width="0.2" font-family="Liberation Sans, sans-serif">0.4</text>
<text x="22.9" y="127.3" font-size="7" font-weight="bold" text-anchor="end" fill="#000" stroke="#000" stroke-width="0.2" font-family="Liberation Sans, sans-serif">0.5</text>
<text x="22.9" y="113.38" font-size="7" font-weight="bold" text-anchor="end" fill="#000" stroke="#000" stroke-width="0.2" font-family="Liberation Sans, sans-serif">0.6</text>
<text x="22.9" y="99.46" font-size="7" font-weight="bold" text-anchor="end" fill="#000" stroke="#000" stroke-width="0.2" font-family="Liberation Sans, sans-serif">0.7</text>
<text x="22.9" y="85.54" font-size="7" font-weight="bold" text-anchor="end" fill="#000" stroke="#000" stroke-width="0.2" font-family="Liberation Sans, sans-serif">0.8</text>
<text x="22.9" y="71.62" font-size="7" font-weight="bold" text-anchor="end" fill="#000" stroke="#000" stroke-width="0.2" font-family="Liberation Sans, sans-serif">0.9</text>
<text x="22.9" y="57.7" font-size="7" font-weight="bold" text-anchor="end" fill="#000" stroke="#000" stroke-width="0.2" font-family="Liberation Sans, sans-serif">1.0</text>
<text x="22.9" y="43.78" font-size="7" font-weight="bold" text-anchor="end" fill="#000" stroke="#000" stroke-width="0.2" font-family="Liberation Sans, sans-serif">1.1</text>
<text x="27.6" y="206" font-size="7.3" font-weight="bold" text-anchor="middle" fill="#000" stroke="#000" stroke-width="0.2" font-family="Liberation Sans, sans-serif">0</text>
<text x="45.72" y="206" font-size="7.3" font-weight="bold" text-anchor="middle" fill="#000" stroke="#000" stroke-width="0.2" font-family="Liberation Sans, sans-serif">1</text>
<text x="63.84" y="206" font-size="7.3" font-weight="bold" text-anchor="middle" fill="#000" stroke="#000" stroke-width="0.2" font-family="Liberation Sans, sans-serif">2</text>
<text x="81.96" y="206" font-size="7.3" font-weight="bold" text-anchor="middle" fill="#000" stroke="#000" stroke-width="0.2" font-family="Liberation Sans, sans-serif">3</text>
<text x="100.08" y="206" font-size="7.3" font-weight="bold" text-anchor="middle" fill="#000" stroke="#000" stroke-width="0.2" font-family="Liberation Sans, sans-serif">4</text>
<text x="118.2" y="206" font-size="7.3" font-weight="bold" text-anchor="middle" fill="#000" stroke="#000" stroke-width="0.2" font-family="Liberation Sans, sans-serif">5</text>
<text x="136.32" y="206" font-size="7.3" font-weight="bold" text-anchor="middle" fill="#000" stroke="#000" stroke-width="0.2" font-family="Liberation Sans, sans-serif">6</text>
<text x="154.44" y="206" font-size="7.3" font-weight="bold" text-anchor="middle" fill="#000" stroke="#000" stroke-width="0.2" font-family="Liberation Sans, sans-serif">7</text>
<text x="172.56" y="206" font-size="7.3" font-weight="bold" text-anchor="middle" fill="#000" stroke="#000" stroke-width="0.2" font-family="Liberation Sans, sans-serif">8</text>
<text x="190.68" y="206" font-size="7.3" font-weight="bold" text-anchor="middle" fill="#000" stroke="#000" stroke-width="0.2" font-family="Liberation Sans, sans-serif">9</text>
<text x="208.8" y="206" font-size="7.3" font-weight="bold" text-anchor="middle" fill="#000" stroke="#000" stroke-width="0.2" font-family="Liberation Sans, sans-serif">10</text>
<text x="226.92" y="206" font-size="7.3" font-weight="bold" text-anchor="middle" fill="#000" stroke="#000" stroke-width="0.2" font-family="Liberation Sans, sans-serif">11</text>
<text x="245.04" y="206" font-size="7.3" font-weight="bold" text-anchor="middle" fill="#000" stroke="#000" stroke-width="0.2" font-family="Liberation Sans, sans-serif">12</text>
<text x="136.5" y="215.7" font-size="7.6" font-weight="bold" text-anchor="middle" textLength="81" lengthAdjust="spacingAndGlyphs" fill="#000" stroke="#000" stroke-width="0.2" font-family="Liberation Sans, sans-serif">Follow-up time from Year-3</text>
<text transform="translate(6.9,118.2) rotate(-90)" font-size="8.4" text-anchor="middle" textLength="27" lengthAdjust="spacingAndGlyphs" fill="#111" stroke="#111" stroke-width="0.35" font-family="Liberation Sans, sans-serif">Survival</text>
<rect x="39.3" y="178" width="194.9" height="16.3" fill="#fff" stroke="#1a1a1a" stroke-width="1.2"/>
<text x="41.7" y="185.7" font-size="7" font-weight="bold" textLength="36.3" lengthAdjust="spacingAndGlyphs" fill="#000" stroke="#000" stroke-width="0.2" font-family="Liberation Sans, sans-serif">TT Protocol</text>
<text x="161.7" y="185.5" font-size="7" font-weight="bold" text-anchor="end" textLength="32" lengthAdjust="spacingAndGlyphs" fill="#000" stroke="#000" stroke-width="0.2" font-family="Liberation Sans, sans-serif">TT2 - Trial</text>
<text x="161.7" y="192.2" font-size="7" font-weight="bold" text-anchor="end" textLength="15.8" lengthAdjust="spacingAndGlyphs" fill="#000" stroke="#000" stroke-width="0.2" font-family="Liberation Sans, sans-serif">TT3a</text>
<text x="231.6" y="185.5" font-size="7" font-weight="bold" text-anchor="end" textLength="34.3" lengthAdjust="spacingAndGlyphs" fill="#000" stroke="#000" stroke-width="0.2" font-family="Liberation Sans, sans-serif">TT2 + Trial</text>
<text x="231.4" y="192.2" font-size="7" font-weight="bold" text-anchor="end" textLength="15.6" lengthAdjust="spacingAndGlyphs" fill="#000" stroke="#000" stroke-width="0.2" font-family="Liberation Sans, sans-serif">TT3b</text>
<line x1="100.9" y1="183.3" x2="112.3" y2="183.3" stroke="#3a3ac4" stroke-width="1.3"/>
<circle cx="100.9" cy="183.3" r="1.4" fill="#20208a"/>
<circle cx="106.6" cy="183.3" r="1.4" fill="#20208a"/>
<circle cx="112.3" cy="183.3" r="1.4" fill="#20208a"/>
<line x1="100.9" y1="189.4" x2="112.3" y2="189.4" stroke="#2e842e" stroke-width="1.3"/>
<circle cx="100.9" cy="189.4" r="1.4" fill="#1a501a"/>
<circle cx="106.6" cy="189.4" r="1.4" fill="#1a501a"/>
<circle cx="112.3" cy="189.4" r="1.4" fill="#1a501a"/>
<line x1="171.3" y1="183.2" x2="182.6" y2="183.2" stroke="#d63a48" stroke-width="1.3"/>
<circle cx="171.3" cy="183.2" r="1.4" fill="#b01830"/>
<circle cx="176.95" cy="183.2" r="1.4" fill="#b01830"/>
<circle cx="182.6" cy="183.2" r="1.4" fill="#b01830"/>
<line x1="171.3" y1="189.5" x2="182.6" y2="189.5" stroke="#151515" stroke-width="1.3"/>
<circle cx="171.3" cy="189.5" r="1.4" fill="#000"/>
<circle cx="176.95" cy="189.5" r="1.4" fill="#000"/>
<circle cx="182.6" cy="189.5" r="1.4" fill="#000"/>
</g>
<text x="7.2" y="463.5" font-size="12" fill="#303030" font-family="Liberation Sans, sans-serif">E. CA13/Hypodiploid</text>
<polyline points="45.82,512.2 63.94,520.4 82.06,501.9 100.18,524.2 118.3,515 136.42,502.3" fill="none" stroke="#2e842e" stroke-width="1.05" stroke-linejoin="round"/>
<circle cx="45.82" cy="512.2" r="1.1" fill="#1a501a"/>
<circle cx="63.94" cy="520.4" r="1.1" fill="#1a501a"/>
<circle cx="82.06" cy="501.9" r="1.1" fill="#1a501a"/>
<circle cx="100.18" cy="524.2" r="1.1" fill="#1a501a"/>
<circle cx="118.3" cy="515" r="1.1" fill="#1a501a"/>
<circle cx="136.42" cy="502.3" r="1.1" fill="#1a501a"/>
<polyline points="45.82,511.2 63.94,511.9 82.06,507.3 100.18,502.4 118.3,513 136.42,528.8 154.54,525 172.66,502.2 190.78,502 208.9,502 227.02,502" fill="none" stroke="#d63a48" stroke-width="1.05" stroke-linejoin="round"/>
<circle cx="45.82" cy="511.2" r="1.1" fill="#b01830"/>
<circle cx="63.94" cy="511.9" r="1.1" fill="#b01830"/>
<circle cx="82.06" cy="507.3" r="1.1" fill="#b01830"/>
<circle cx="100.18" cy="502.4" r="1.1" fill="#b01830"/>
<circle cx="118.3" cy="513" r="1.1" fill="#b01830"/>
<circle cx="136.42" cy="528.8" r="1.1" fill="#b01830"/>
<circle cx="154.54" cy="525" r="1.1" fill="#b01830"/>
<circle cx="172.66" cy="502.2" r="1.1" fill="#b01830"/>
<circle cx="190.78" cy="502" r="1.1" fill="#b01830"/>
<circle cx="208.9" cy="502" r="1.1" fill="#b01830"/>
<circle cx="227.02" cy="502" r="1.1" fill="#b01830"/>
<polyline points="45.82,519.6 63.94,511.9 82.06,523.5 100.18,510.4 118.3,502.3 136.42,502 154.54,524.2 172.66,518.7 190.78,501.5 208.9,558.5 227.02,499.5" fill="none" stroke="#3a3ac4" stroke-width="1.05" stroke-linejoin="round"/>
<circle cx="45.82" cy="519.6" r="1.1" fill="#20208a"/>
<circle cx="63.94" cy="511.9" r="1.1" fill="#20208a"/>
<circle cx="82.06" cy="523.5" r="1.1" fill="#20208a"/>
<circle cx="100.18" cy="510.4" r="1.1" fill="#20208a"/>
<circle cx="118.3" cy="502.3" r="1.1" fill="#20208a"/>
<circle cx="136.42" cy="502" r="1.1" fill="#20208a"/>
<circle cx="154.54" cy="524.2" r="1.1" fill="#20208a"/>
<circle cx="172.66" cy="518.7" r="1.1" fill="#20208a"/>
<circle cx="190.78" cy="501.5" r="1.1" fill="#20208a"/>
<circle cx="208.9" cy="558.5" r="1.1" fill="#20208a"/>
<circle cx="227.02" cy="499.5" r="1.1" fill="#20208a"/>
<polyline points="45.82,502.4 63.94,509.6 82.06,501.9" fill="none" stroke="#151515" stroke-width="1.05" stroke-linejoin="round"/>
<circle cx="45.82" cy="502.4" r="1.1" fill="#000"/>
<circle cx="63.94" cy="509.6" r="1.1" fill="#000"/>
<circle cx="82.06" cy="501.9" r="1.1" fill="#000"/>
<g transform="translate(270,449.6)">
<text x="123.9" y="27.5" font-size="6.4" font-weight="bold" text-anchor="middle" textLength="199" lengthAdjust="spacingAndGlyphs" fill="#000" stroke="#000" stroke-width="0.25" font-family="Liberation Sans, sans-serif">Relative Survival by Protocol for Progression-free Patients at Year-3</text>
<text x="123.6" y="33.8" font-size="7.4" font-weight="bold" text-anchor="middle" textLength="58" lengthAdjust="spacingAndGlyphs" fill="#000" stroke="#000" stroke-width="0.2" font-family="Liberation Sans, sans-serif">GEP-70 High Risk</text>
<rect x="26.2" y="40" width="220.8" height="156.8" fill="none" stroke="#333" stroke-width="1.6"/>
<line x1="27" y1="55.3" x2="246.4" y2="55.3" stroke="#999" stroke-width="1.2"/>
<text x="22.9" y="196.9" font-size="7" font-weight="bold" text-anchor="end" fill="#000" stroke="#000" stroke-width="0.2" font-family="Liberation Sans, sans-serif">0.0</text>
<text x="22.9" y="182.98" font-size="7" font-weight="bold" text-anchor="end" fill="#000" stroke="#000" stroke-width="0.2" font-family="Liberation Sans, sans-serif">0.1</text>
<text x="22.9" y="169.06" font-size="7" font-weight="bold" text-anchor="end" fill="#000" stroke="#000" stroke-width="0.2" font-family="Liberation Sans, sans-serif">0.2</text>
<text x="22.9" y="155.14" font-size="7" font-weight="bold" text-anchor="end" fill="#000" stroke="#000" stroke-width="0.2" font-family="Liberation Sans, sans-serif">0.3</text>
<text x="22.9" y="141.22" font-size="7" font-weight="bold" text-anchor="end" fill="#000" stroke="#000" stroke-width="0.2" font-family="Liberation Sans, sans-serif">0.4</text>
<text x="22.9" y="127.3" font-size="7" font-weight="bold" text-anchor="end" fill="#000" stroke="#000" stroke-width="0.2" font-family="Liberation Sans, sans-serif">0.5</text>
<text x="22.9" y="113.38" font-size="7" font-weight="bold" text-anchor="end" fill="#000" stroke="#000" stroke-width="0.2" font-family="Liberation Sans, sans-serif">0.6</text>
<text x="22.9" y="99.46" font-size="7" font-weight="bold" text-anchor="end" fill="#000" stroke="#000" stroke-width="0.2" font-family="Liberation Sans, sans-serif">0.7</text>
<text x="22.9" y="85.54" font-size="7" font-weight="bold" text-anchor="end" fill="#000" stroke="#000" stroke-width="0.2" font-family="Liberation Sans, sans-serif">0.8</text>
<text x="22.9" y="71.62" font-size="7" font-weight="bold" text-anchor="end" fill="#000" stroke="#000" stroke-width="0.2" font-family="Liberation Sans, sans-serif">0.9</text>
<text x="22.9" y="57.7" font-size="7" font-weight="bold" text-anchor="end" fill="#000" stroke="#000" stroke-width="0.2" font-family="Liberation Sans, sans-serif">1.0</text>
<text x="22.9" y="43.78" font-size="7" font-weight="bold" text-anchor="end" fill="#000" stroke="#000" stroke-width="0.2" font-family="Liberation Sans, sans-serif">1.1</text>
<text x="27.6" y="206" font-size="7.3" font-weight="bold" text-anchor="middle" fill="#000" stroke="#000" stroke-width="0.2" font-family="Liberation Sans, sans-serif">0</text>
<text x="45.72" y="206" font-size="7.3" font-weight="bold" text-anchor="middle" fill="#000" stroke="#000" stroke-width="0.2" font-family="Liberation Sans, sans-serif">1</text>
<text x="63.84" y="206" font-size="7.3" font-weight="bold" text-anchor="middle" fill="#000" stroke="#000" stroke-width="0.2" font-family="Liberation Sans, sans-serif">2</text>
<text x="81.96" y="206" font-size="7.3" font-weight="bold" text-anchor="middle" fill="#000" stroke="#000" stroke-width="0.2" font-family="Liberation Sans, sans-serif">3</text>
<text x="100.08" y="206" font-size="7.3" font-weight="bold" text-anchor="middle" fill="#000" stroke="#000" stroke-width="0.2" font-family="Liberation Sans, sans-serif">4</text>
<text x="118.2" y="206" font-size="7.3" font-weight="bold" text-anchor="middle" fill="#000" stroke="#000" stroke-width="0.2" font-family="Liberation Sans, sans-serif">5</text>
<text x="136.32" y="206" font-size="7.3" font-weight="bold" text-anchor="middle" fill="#000" stroke="#000" stroke-width="0.2" font-family="Liberation Sans, sans-serif">6</text>
<text x="154.44" y="206" font-size="7.3" font-weight="bold" text-anchor="middle" fill="#000" stroke="#000" stroke-width="0.2" font-family="Liberation Sans, sans-serif">7</text>
<text x="172.56" y="206" font-size="7.3" font-weight="bold" text-anchor="middle" fill="#000" stroke="#000" stroke-width="0.2" font-family="Liberation Sans, sans-serif">8</text>
<text x="190.68" y="206" font-size="7.3" font-weight="bold" text-anchor="middle" fill="#000" stroke="#000" stroke-width="0.2" font-family="Liberation Sans, sans-serif">9</text>
<text x="208.8" y="206" font-size="7.3" font-weight="bold" text-anchor="middle" fill="#000" stroke="#000" stroke-width="0.2" font-family="Liberation Sans, sans-serif">10</text>
<text x="226.92" y="206" font-size="7.3" font-weight="bold" text-anchor="middle" fill="#000" stroke="#000" stroke-width="0.2" font-family="Liberation Sans, sans-serif">11</text>
<text x="245.04" y="206" font-size="7.3" font-weight="bold" text-anchor="middle" fill="#000" stroke="#000" stroke-width="0.2" font-family="Liberation Sans, sans-serif">12</text>
<text x="136.5" y="215.7" font-size="7.6" font-weight="bold" text-anchor="middle" textLength="81" lengthAdjust="spacingAndGlyphs" fill="#000" stroke="#000" stroke-width="0.2" font-family="Liberation Sans, sans-serif">Follow-up time from Year-3</text>
<text transform="translate(6.9,118.2) rotate(-90)" font-size="8.4" text-anchor="middle" textLength="27" lengthAdjust="spacingAndGlyphs" fill="#111" stroke="#111" stroke-width="0.35" font-family="Liberation Sans, sans-serif">Survival</text>
<rect x="39.3" y="178" width="194.9" height="16.3" fill="#fff" stroke="#1a1a1a" stroke-width="1.2"/>
<text x="41.7" y="185.7" font-size="7" font-weight="bold" textLength="36.3" lengthAdjust="spacingAndGlyphs" fill="#000" stroke="#000" stroke-width="0.2" font-family="Liberation Sans, sans-serif">TT Protocol</text>
<text x="161.7" y="185.5" font-size="7" font-weight="bold" text-anchor="end" textLength="32" lengthAdjust="spacingAndGlyphs" fill="#000" stroke="#000" stroke-width="0.2" font-family="Liberation Sans, sans-serif">TT2 - Trial</text>
<text x="161.7" y="192.2" font-size="7" font-weight="bold" text-anchor="end" textLength="15.8" lengthAdjust="spacingAndGlyphs" fill="#000" stroke="#000" stroke-width="0.2" font-family="Liberation Sans, sans-serif">TT3a</text>
<text x="231.6" y="185.5" font-size="7" font-weight="bold" text-anchor="end" textLength="34.3" lengthAdjust="spacingAndGlyphs" fill="#000" stroke="#000" stroke-width="0.2" font-family="Liberation Sans, sans-serif">TT2 + Trial</text>
<text x="231.4" y="192.2" font-size="7" font-weight="bold" text-anchor="end" textLength="15.6" lengthAdjust="spacingAndGlyphs" fill="#000" stroke="#000" stroke-width="0.2" font-family="Liberation Sans, sans-serif">TT3b</text>
<line x1="100.9" y1="183.3" x2="112.3" y2="183.3" stroke="#3a3ac4" stroke-width="1.3"/>
<circle cx="100.9" cy="183.3" r="1.4" fill="#20208a"/>
<circle cx="106.6" cy="183.3" r="1.4" fill="#20208a"/>
<circle cx="112.3" cy="183.3" r="1.4" fill="#20208a"/>
<line x1="100.9" y1="189.4" x2="112.3" y2="189.4" stroke="#2e842e" stroke-width="1.3"/>
<circle cx="100.9" cy="189.4" r="1.4" fill="#1a501a"/>
<circle cx="106.6" cy="189.4" r="1.4" fill="#1a501a"/>
<circle cx="112.3" cy="189.4" r="1.4" fill="#1a501a"/>
<line x1="171.3" y1="183.2" x2="182.6" y2="183.2" stroke="#d63a48" stroke-width="1.3"/>
<circle cx="171.3" cy="183.2" r="1.4" fill="#b01830"/>
<circle cx="176.95" cy="183.2" r="1.4" fill="#b01830"/>
<circle cx="182.6" cy="183.2" r="1.4" fill="#b01830"/>
<line x1="171.3" y1="189.5" x2="182.6" y2="189.5" stroke="#151515" stroke-width="1.3"/>
<circle cx="171.3" cy="189.5" r="1.4" fill="#000"/>
<circle cx="176.95" cy="189.5" r="1.4" fill="#000"/>
<circle cx="182.6" cy="189.5" r="1.4" fill="#000"/>
</g>
<text x="277.1" y="463.5" font-size="12" fill="#303030" font-family="Liberation Sans, sans-serif">F. GEP-70 High Risk</text>
<polyline points="315.72,503.1 333.84,521.2 351.96,514 370.08,550.6 388.2,550.3 406.32,503.5" fill="none" stroke="#2e842e" stroke-width="1.05" stroke-linejoin="round"/>
<circle cx="315.72" cy="503.1" r="1.1" fill="#1a501a"/>
<circle cx="333.84" cy="521.2" r="1.1" fill="#1a501a"/>
<circle cx="351.96" cy="514" r="1.1" fill="#1a501a"/>
<circle cx="370.08" cy="550.6" r="1.1" fill="#1a501a"/>
<circle cx="388.2" cy="550.3" r="1.1" fill="#1a501a"/>
<circle cx="406.32" cy="503.5" r="1.1" fill="#1a501a"/>
<polyline points="315.72,521.7 333.84,503.5 351.96,503.5 370.08,503.3 388.2,502.5 406.32,524.6 424.44,550.6" fill="none" stroke="#d63a48" stroke-width="1.05" stroke-linejoin="round"/>
<circle cx="315.72" cy="521.7" r="1.1" fill="#b01830"/>
<circle cx="333.84" cy="503.5" r="1.1" fill="#b01830"/>
<circle cx="351.96" cy="503.5" r="1.1" fill="#b01830"/>
<circle cx="370.08" cy="503.3" r="1.1" fill="#b01830"/>
<circle cx="388.2" cy="502.5" r="1.1" fill="#b01830"/>
<circle cx="406.32" cy="524.6" r="1.1" fill="#b01830"/>
<circle cx="424.44" cy="550.6" r="1.1" fill="#b01830"/>
<polyline points="315.72,539 333.84,503.5 351.96,503.5 370.08,503.5 388.2,503 406.32,596.7 424.44,502 442.56,502" fill="none" stroke="#3a3ac4" stroke-width="1.05" stroke-linejoin="round"/>
<circle cx="315.72" cy="539" r="1.1" fill="#20208a"/>
<circle cx="333.84" cy="503.5" r="1.1" fill="#20208a"/>
<circle cx="351.96" cy="503.5" r="1.1" fill="#20208a"/>
<circle cx="370.08" cy="503.5" r="1.1" fill="#20208a"/>
<circle cx="388.2" cy="503" r="1.1" fill="#20208a"/>
<circle cx="406.32" cy="596.7" r="1.1" fill="#20208a"/>
<circle cx="424.44" cy="502" r="1.1" fill="#20208a"/>
<circle cx="442.56" cy="502" r="1.1" fill="#20208a"/>
<polyline points="315.72,512.7 333.84,503.5 351.96,503.5" fill="none" stroke="#151515" stroke-width="1.05" stroke-linejoin="round"/>
<circle cx="315.72" cy="512.7" r="1.1" fill="#000"/>
<circle cx="333.84" cy="503.5" r="1.1" fill="#000"/>
<circle cx="351.96" cy="503.5" r="1.1" fill="#000"/>
</svg>
</body></html>
